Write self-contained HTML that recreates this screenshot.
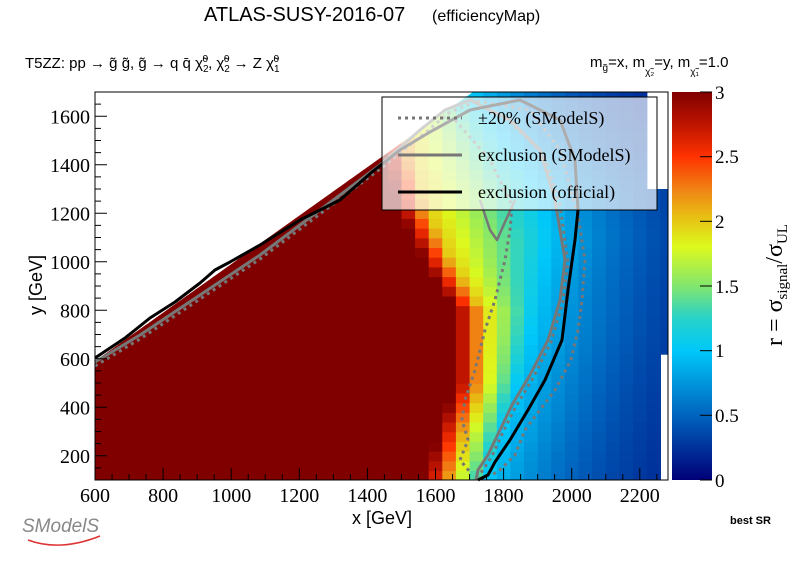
<!DOCTYPE html>
<html><head><meta charset="utf-8">
<style>
body{margin:0;background:#fff;width:796px;height:572px;overflow:hidden;position:relative;font-family:"Liberation Sans",sans-serif}
</style></head><body>
<svg id="s" width="796" height="572" style="position:absolute;left:0;top:0">
<defs><linearGradient id="cb" x1="0" y1="1" x2="0" y2="0">
<stop offset="0" stop-color="#000078"/><stop offset="0.167" stop-color="#0064be"/>
<stop offset="0.333" stop-color="#00c8fa"/><stop offset="0.417" stop-color="#28d2c8"/>
<stop offset="0.5" stop-color="#82e66e"/><stop offset="0.6" stop-color="#dcfa1e"/>
<stop offset="0.667" stop-color="#e6c814"/><stop offset="0.75" stop-color="#f08214"/>
<stop offset="0.833" stop-color="#ff3200"/><stop offset="0.917" stop-color="#be1400"/>
<stop offset="1" stop-color="#800000"/></linearGradient>
<clipPath id="cp"><polygon id="cpp" points="0,0"/></clipPath></defs>
<g id="cells" clip-path="url(#cp)"></g>
<g fill="none" stroke-linejoin="round">
<polyline stroke="#777" stroke-width="3" stroke-dasharray="3,4" points="95,366 140,339 200,299 260,259 320,214 380,169 425,133 450,112 475,102 512,124 544,155 560,205 568,262 563,302 551,342 533,378 515,408 503,432 492,456 483,470 478,476"/>
<polyline stroke="#777" stroke-width="3" stroke-dasharray="3,4" points="470,100 530,110 560,150 578,215 585,260 582,300 578,330 571,360 555,390 540,410 525,430 515,455 500,470 490,476"/>
<polyline stroke="#777" stroke-width="3" stroke-dasharray="3,4" points="455,120 490,160 512,205 510,230 505,260 495,300 485,330 475,370 465,400 462,420 468,440 460,460 470,472"/>
<polyline stroke="#777" stroke-width="3" points="95,362 140,335 200,295 260,255 320,210 380,165 420,130 445,110 470,100 510,120 540,150 555,200 565,260 560,300 548,340 530,375 512,405 500,430 488,455 478,470 476,480"/>
<polyline stroke="#777" stroke-width="2.5" points="480,200 490,230 497,240 505,222 515,200"/>
<polyline stroke="#000" stroke-width="3" points="95,358 125,338 150,318 175,302 200,283 215,270 230,262 260,245 300,220 340,200 372,172 400,150 430,132 470,110 520,100 560,120 575,160 578,210 575,240 568,290 562,340 545,380 528,410 510,440 495,462 488,475 478,480"/>
</g>
<rect x="95" y="92" width="573" height="388" fill="none" stroke="#000" stroke-width="1"/>
<g id="ticks" stroke="#000" stroke-width="1"></g>
<rect x="672" y="92" width="40" height="388" fill="url(#cb)"/>
<g stroke="#000"><line x1="700" y1="92" x2="712" y2="92"/><line x1="700" y1="156.7" x2="712" y2="156.7"/><line x1="700" y1="221.3" x2="712" y2="221.3"/><line x1="700" y1="286" x2="712" y2="286"/><line x1="700" y1="350.7" x2="712" y2="350.7"/><line x1="700" y1="415.3" x2="712" y2="415.3"/><line x1="700" y1="480" x2="712" y2="480"/></g>
<rect x="382" y="97" width="275" height="113" fill="rgba(255,255,255,0.68)" stroke="#000" stroke-width="1"/>
<line x1="398" y1="118" x2="462" y2="118" stroke="#777" stroke-width="3" stroke-dasharray="3,4"/>
<line x1="398" y1="155" x2="462" y2="155" stroke="#777" stroke-width="3"/>
<line x1="398" y1="192" x2="462" y2="192" stroke="#000" stroke-width="3"/>
<text x="478" y="124" font-family="Liberation Serif" font-size="18">±20% (SModelS)</text>
<text x="478" y="161" font-family="Liberation Serif" font-size="18">exclusion (SModelS)</text>
<text x="478" y="198" font-family="Liberation Serif" font-size="18">exclusion (official)</text>
<g font-family="Liberation Serif" font-size="20" text-anchor="middle" id="xl"></g>
<g font-family="Liberation Serif" font-size="20" text-anchor="end" id="yl"></g>
<g font-family="Liberation Serif" font-size="19">
<text x="715" y="99">3</text><text x="715" y="163">2.5</text><text x="715" y="228">2</text><text x="715" y="293">1.5</text><text x="715" y="357">1</text><text x="715" y="422">0.5</text><text x="715" y="487">0</text></g>
<text transform="translate(782,285) rotate(-90)" text-anchor="middle" font-family="Liberation Serif" font-size="24">r = σ<tspan font-size="15" dy="5">signal</tspan><tspan dy="-5">/σ</tspan><tspan font-size="15" dy="5">UL</tspan></text>
<text transform="translate(42,285) rotate(-90)" text-anchor="middle" font-size="18">y [GeV]</text>
<text x="382" y="524" text-anchor="middle" font-size="18">x [GeV]</text>
<text x="204" y="21" font-size="20">ATLAS-SUSY-2016-07</text>
<text x="432" y="21" font-size="16">(efficiencyMap)</text>
<text x="25" y="68" font-size="15">T5ZZ: pp  → g̃ g̃, g̃  → q q̄ χ̃<tspan font-size="10" dy="4">2</tspan><tspan font-size="10" dx="-6" dy="-10">0</tspan><tspan dy="6">, χ̃</tspan><tspan font-size="10" dy="4">2</tspan><tspan font-size="10" dx="-6" dy="-10">0</tspan><tspan dy="6"> → Z χ̃</tspan><tspan font-size="10" dy="4">1</tspan><tspan font-size="10" dx="-6" dy="-10">0</tspan></text>
<text x="590" y="67" font-size="15">m<tspan font-size="10" dy="4">g̃</tspan><tspan dy="-4">=x, m</tspan><tspan font-size="10" dy="8">χ̃₂</tspan><tspan dy="-8">=y, m</tspan><tspan font-size="10" dy="8">χ̃₁</tspan><tspan dy="-8">=1.0</tspan></text>
<text x="730" y="524" font-size="11" font-weight="bold">best SR</text>
<text x="22" y="532" font-size="19" fill="#888" font-style="italic">SModelS</text>
<path d="M28 540 Q60 552 100 536" stroke="#d33" stroke-width="1.5" fill="none"/>
</svg>
<script>
function px(x){return 95+(x-600)*0.3405;}
function py(y){return 92+(1700-y)*0.2425;}
function interp(t,a){for(var i=0;i<a.length-1;i++){if(t<=a[i+1][0]){var f=(t-a[i][0])/(a[i+1][0]-a[i][0]);return a[i][1]+f*(a[i+1][1]-a[i][1]);}}return a[a.length-1][1];}
var X2=[[100,1650],[300,1690],[500,1740],[800,1740],[1000,1650],[1200,1580],[1400,1540],[1550,1520],[1700,1500]];
var X1=[[100,1750],[400,1820],[700,1880],[900,1900],[1100,1930],[1300,1900],[1500,1800],[1700,1700]];
var C=[[0,[0,0,120]],[0.5,[0,100,190]],[1,[0,200,250]],[1.25,[40,210,200]],[1.5,[130,230,110]],[1.8,[220,250,30]],[2,[230,200,20]],[2.25,[240,130,20]],[2.5,[255,50,0]],[2.75,[190,20,0]],[3,[128,0,0]]];
function col(r){r=Math.max(0,Math.min(3,r));for(var i=0;i<C.length-1;i++){if(r<=C[i+1][0]){var f=(r-C[i][0])/(C[i+1][0]-C[i][0]);var a=C[i][1],b=C[i+1][1];return "rgb("+[0,1,2].map(function(k){return Math.round(a[k]+f*(b[k]-a[k]));}).join(",")+")";}}return "rgb(128,0,0)";}
var h="";
for(var x=580;x<2290;x+=40){for(var y=100;y<1720;y+=40){
 if(y>x+40)continue;
 var xc=x+20,yc=y+20;
 if(xc>2240&&yc<620)continue;
 if(xc>2280&&yc<1000)continue;
 if(xc>2200&&yc>1300)continue;
 var x2=interp(yc,X2),x1=interp(yc,X1),r;
 if(xc<x2)r=Math.min(3,2+(x2-xc)/80);
 else if(xc<x1)r=2-(xc-x2)/(x1-x2);
 else r=Math.exp(-(xc-x1)/350);
 var L=Math.max(95,px(x)),R=Math.min(668,px(x+40)),T=Math.max(92,py(y+40)),B=Math.min(480,py(y));
 if(R<=L||B<=T)continue;
 h+='<rect x="'+L.toFixed(1)+'" y="'+T.toFixed(1)+'" width="'+(R-L+0.8).toFixed(1)+'" height="'+(B-T+0.8).toFixed(1)+'" fill="'+col(r)+'"/>';
}}
document.getElementById("cells").innerHTML=h;
document.getElementById("cpp").setAttribute("points","95,480 95,"+py(590)+" "+px(1710)+",92 668,92 668,480");
var t="",xl="",yl="";
for(var x=600;x<=2280;x+=50){var p=px(x);var L=(x%200==0)?12:6;t+='<line x1="'+p+'" y1="480" x2="'+p+'" y2="'+(480-L)+'"/>';if(x%200==0&&x<=2200)xl+='<text x="'+p+'" y="502">'+x+'</text>';}
for(var y=100;y<=1700;y+=50){var p=py(y);var L=(y%200==0)?12:6;t+='<line x1="95" y1="'+p+'" x2="'+(95+L)+'" y2="'+p+'"/>';if(y%200==0)yl+='<text x="90" y="'+(p+7)+'">'+y+'</text>';}
document.getElementById("ticks").innerHTML=t;
document.getElementById("xl").innerHTML=xl;
document.getElementById("yl").innerHTML=yl;
</script>
</body></html>
